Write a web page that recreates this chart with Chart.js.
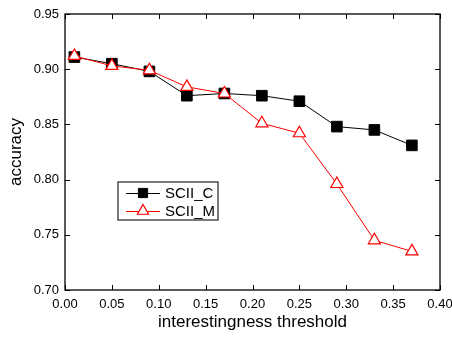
<!DOCTYPE html>
<html>
<head>
<meta charset="utf-8">
<script src="https://cdn.jsdelivr.net/npm/chart.js@4.4.0/dist/chart.umd.min.js"></script>
<style>
  body { margin: 0; background: #fff; }
  #wrap { width: 452px; height: 338px; }
</style>
</head>
<body>
<div id="wrap"><canvas id="accChart" width="452" height="338"></canvas></div>
<script>
// interestingness threshold values (x)
const thresholds = [0.01, 0.05, 0.09, 0.13, 0.17, 0.21, 0.25, 0.29, 0.33, 0.37];
// accuracy
const sciiC = [0.911, 0.905, 0.898, 0.876, 0.878, 0.876, 0.871, 0.848, 0.845, 0.831];
const sciiM = [0.912, 0.903, 0.899, 0.884, 0.878, 0.851, 0.842, 0.796, 0.745, 0.735];
// axis ticks
const xTicks = [0.00, 0.05, 0.10, 0.15, 0.20, 0.25, 0.30, 0.35, 0.40];
const yTicks = [0.70, 0.75, 0.80, 0.85, 0.90, 0.95];

const toPoints = (ys) => ys.map((y, i) => ({ x: thresholds[i], y: y }));

// frame box + inward ticks on all four sides
const framePlugin = {
    id: 'frame',
    afterDatasetsDraw(chart) {
        const { ctx, chartArea: a, scales } = chart;
        const tick = 5;
        ctx.save();
        ctx.strokeStyle = '#000';
        ctx.lineWidth = 1.3;
        ctx.strokeRect(a.left, a.top, a.right - a.left, a.bottom - a.top);
        ctx.lineWidth = 1;
        ctx.beginPath();
        xTicks.forEach(v => {
            const x = Math.round(scales.x.getPixelForValue(v)) + 0.5;
            ctx.moveTo(x, a.bottom); ctx.lineTo(x, a.bottom - tick);
            ctx.moveTo(x, a.top); ctx.lineTo(x, a.top + tick);
        });
        yTicks.forEach(v => {
            const y = Math.round(scales.y.getPixelForValue(v)) + 0.5;
            ctx.moveTo(a.left, y); ctx.lineTo(a.left + tick, y);
            ctx.moveTo(a.right, y); ctx.lineTo(a.right - tick, y);
        });
        ctx.stroke();
        ctx.restore();
    }
};

// boxed legend inside the plot
const legendPlugin = {
    id: 'boxLegend',
    afterDraw(chart) {
        const { ctx } = chart;
        const box = { x: 118, y: 182, w: 100, h: 38 };
        ctx.save();
        ctx.strokeStyle = '#333';
        ctx.lineWidth = 1.3;
        ctx.fillStyle = '#fff';
        ctx.fillRect(box.x, box.y, box.w, box.h);
        ctx.strokeRect(box.x, box.y, box.w, box.h);
        const rows = [193, 211];
        chart.data.datasets.forEach((ds, i) => {
            const y = rows[i];
            ctx.strokeStyle = ds.borderColor;
            ctx.lineWidth = 1;
            ctx.beginPath();
            ctx.moveTo(126, y + 0.5); ctx.lineTo(160, y + 0.5);
            ctx.stroke();
            ctx.fillStyle = ds.pointBackgroundColor;
            ctx.strokeStyle = ds.pointBorderColor;
            ctx.lineWidth = ds.pointBorderWidth;
            Chart.helpers.drawPoint(ctx, {
                pointStyle: ds.pointStyle,
                radius: ds.legendRadius,
                borderWidth: ds.pointBorderWidth,
                rotation: 0
            }, 143, y);
            ctx.fillStyle = '#000';
            ctx.font = '15px "Liberation Sans", Arial, sans-serif';
            ctx.textBaseline = 'middle';
            ctx.textAlign = 'left';
            ctx.fillText(ds.label, 165, y + 1);
        });
        ctx.restore();
    }
};

const ctx = document.getElementById('accChart').getContext('2d');
const accChart = new Chart(ctx, {
    type: 'line',
    data: {
        datasets: [
            {
                label: 'SCII_C',
                data: toPoints(sciiC),
                borderColor: '#000',
                borderWidth: 1,
                pointStyle: 'rect',
                pointRadius: 7.5,
                legendRadius: 6.5,
                pointBackgroundColor: '#000',
                pointBorderColor: '#000',
                pointBorderWidth: 1,
                tension: 0,
                order: 1
            },
            {
                label: 'SCII_M',
                data: toPoints(sciiM),
                borderColor: '#ff0000',
                borderWidth: 1,
                pointStyle: 'triangle',
                pointRadius: 7,
                legendRadius: 6.5,
                pointBackgroundColor: '#fff',
                pointBorderColor: '#ff0000',
                pointBorderWidth: 1.2,
                tension: 0,
                order: 0
            }
        ]
    },
    options: {
        responsive: false,
        animation: false,
        layout: { padding: { top: 14, right: 12, left: 0, bottom: 0 } },
        plugins: {
            legend: { display: false },
            tooltip: { enabled: false }
        },
        scales: {
            x: {
                type: 'linear',
                min: 0, max: 0.4,
                afterFit: s => { s.height = 48; s.paddingLeft = 0; s.paddingRight = 0; },
                afterBuildTicks: s => { s.ticks = xTicks.map(v => ({ value: v })); },
                grid: { display: false, drawTicks: false },
                border: { display: false },
                ticks: {
                    color: '#000',
                    padding: 7,
                    maxRotation: 0,
                    font: { family: '"Liberation Sans", Arial, sans-serif', size: 13 },
                    callback: v => v.toFixed(2)
                },
                title: {
                    display: true,
                    text: 'interestingness threshold',
                    color: '#000',
                    padding: { top: 0, bottom: 7 },
                    font: { family: '"Liberation Sans", Arial, sans-serif', size: 17, lineHeight: 1 }
                }
            },
            y: {
                min: 0.70, max: 0.95,
                afterFit: s => { s.width = 65; s.paddingTop = 0; s.paddingBottom = 0; },
                afterBuildTicks: s => { s.ticks = yTicks.map(v => ({ value: v })); },
                grid: { display: false, drawTicks: false },
                border: { display: false },
                ticks: {
                    color: '#000',
                    padding: 6,
                    font: { family: '"Liberation Sans", Arial, sans-serif', size: 13 },
                    callback: v => v.toFixed(2)
                },
                title: {
                    display: true,
                    text: 'accuracy',
                    color: '#000',
                    padding: { top: 8, bottom: 0 },
                    font: { family: '"Liberation Sans", Arial, sans-serif', size: 17, lineHeight: 1 }
                }
            }
        }
    },
    plugins: [framePlugin, legendPlugin]
});
</script>
</body>
</html>
